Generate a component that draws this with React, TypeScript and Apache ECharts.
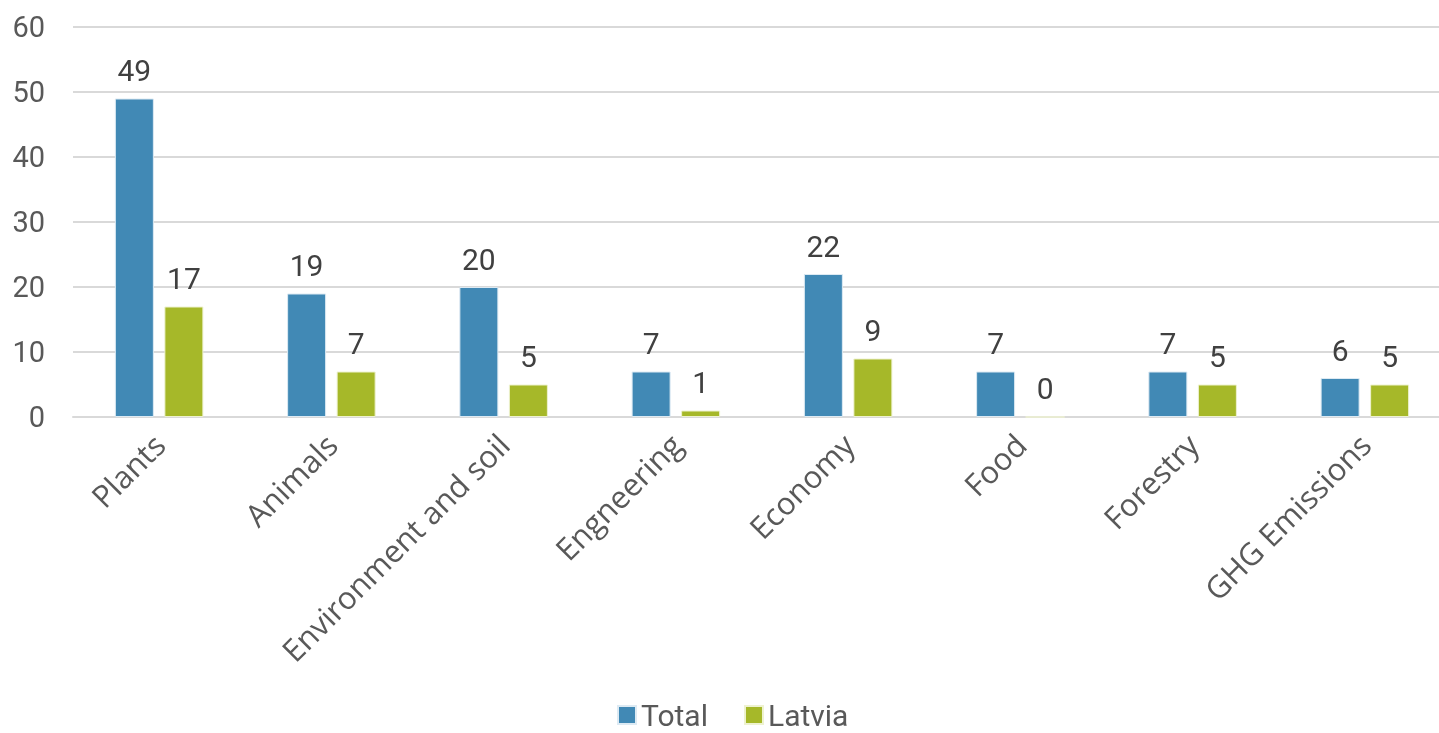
import React, { useEffect, useRef } from "react";
import * as echarts from "echarts";

const categories = ["Plants", "Animals", "Environment and soil", "Engneering", "Economy", "Food", "Forestry", "GHG Emissions"];
const totalValues = [49, 19, 20, 7, 22, 7, 7, 6];
const latviaValues = [17, 7, 5, 1, 9, 0, 5, 5];

export default function App() {
  const ref = useRef<HTMLDivElement>(null);
  useEffect(() => {
    const chart = echarts.init(ref.current!, null, { renderer: "svg" });
    const labelStyle = {
      show: true,
      position: "top",
      distance: 13,
      fontSize: 30,
      color: "#404040",
      fontFamily: "Roboto",
    };
    chart.setOption({
      animation: false,
      grid: { left: 73, right: 4, top: 27, bottom: 316, containLabel: false },
      legend: {
        top: 700,
        left: 617,
        itemWidth: 18,
        itemHeight: 18,
        itemGap: 36,
        padding: 0,
        icon: "rect",
        textStyle: { fontSize: 30, lineHeight: 30, color: "#595959", fontFamily: "Roboto" },
        data: ["Total", "Latvia"],
      },
      xAxis: {
        type: "category",
        data: categories,
        axisTick: { show: false },
        axisLine: { show: true, lineStyle: { color: "#d9d9d9", width: 2 } },
        axisLabel: {
          rotate: 45,
          margin: 22,
          interval: 0,
          fontSize: 31,
          color: "#595959",
          fontFamily: "Open Sans",
        },
      },
      yAxis: {
        type: "value",
        min: 0,
        max: 60,
        interval: 10,
        axisLine: { show: false },
        axisTick: { show: false },
        splitLine: { lineStyle: { color: "#d9d9d9", width: 2 } },
        axisLabel: { fontSize: 29, color: "#595959", fontFamily: "Roboto", margin: 28 },
      },
      series: [
        {
          name: "Total",
          type: "bar",
          data: totalValues,
          barWidth: 39,
          barGap: "27%",
          itemStyle: { color: "#4189b5", borderColor: "#ddeaf3", borderWidth: 1 },
          label: labelStyle,
        },
        {
          name: "Latvia",
          type: "bar",
          data: latviaValues,
          barWidth: 39,
          itemStyle: { color: "#a6b829", borderColor: "#eef2d0", borderWidth: 1 },
          label: labelStyle,
        },
      ],
    });
    return () => chart.dispose();
  }, []);
  return <div ref={ref} style={{ position: "fixed", left: 0, top: 0, width: 1455, height: 733 }} />;
}
